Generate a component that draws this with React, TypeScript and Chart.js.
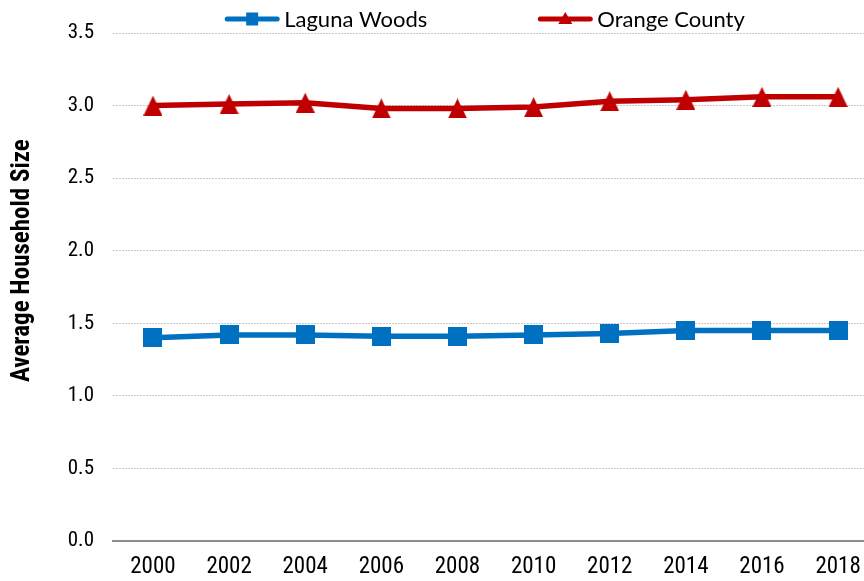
import React, { useEffect, useRef } from "react";
import { Chart, registerables } from "chart.js";

Chart.register(...registerables);

const years = [2000, 2002, 2004, 2006, 2008, 2010, 2012, 2014, 2016, 2018];
const lagunaWoods = [1.40, 1.42, 1.42, 1.41, 1.41, 1.42, 1.43, 1.45, 1.45, 1.45];
const orangeCounty = [3.00, 3.01, 3.02, 2.98, 2.98, 2.99, 3.03, 3.04, 3.06, 3.06];
const yTicks = [0, 0.5, 1.0, 1.5, 2.0, 2.5, 3.0, 3.5];
const seriesNames = ["Laguna Woods", "Orange County"];
const yAxisTitle = "Average Household Size";

const BLUE = "#0070C0";
const RED = "#C00000";
const TICK_FONT = "'Roboto Condensed', 'Liberation Sans', sans-serif";

function makeMarker(kind: string, color: string): HTMLCanvasElement {
  const c = document.createElement("canvas");
  if (kind === "rect") {
    c.width = 19;
    c.height = 19;
    const g = c.getContext("2d")!;
    g.fillStyle = color;
    g.fillRect(0, 0, 19, 19);
  } else {
    c.width = 19;
    c.height = 20;
    const g = c.getContext("2d")!;
    g.fillStyle = color;
    g.beginPath();
    g.moveTo(9.5, 0);
    g.lineTo(19, 20);
    g.lineTo(0, 20);
    g.closePath();
    g.fill();
  }
  return c;
}

const titlePlugin = {
  id: "yTitle",
  afterDraw(chart: any) {
    const ctx = chart.ctx;
    const area = chart.chartArea;
    ctx.save();
    ctx.translate(23, area.top + (area.bottom - area.top) * 0.448);
    ctx.rotate(-Math.PI / 2);
    ctx.font = "bold 25px 'Roboto Condensed', 'Liberation Sans', sans-serif";
    ctx.fillStyle = "#000";
    ctx.textAlign = "center";
    ctx.textBaseline = "middle";
    ctx.fillText(yAxisTitle, 0, 0);
    ctx.restore();
  },
};

const legendPlugin = {
  id: "excelLegend",
  afterDraw(chart: any) {
    const ctx = chart.ctx;
    const area = chart.chartArea;
    ctx.save();
    ctx.font = "22px Lato, 'Open Sans', sans-serif";
    const symW = 56;
    const symGap = 4;
    const itemGap = 110;
    const items = chart.data.datasets.map((ds: any) => ({
      ds,
      tw: ctx.measureText(ds.label).width,
    }));
    const total =
      items.reduce((s: number, it: any) => s + symW + symGap + it.tw, 0) +
      itemGap * (items.length - 1);
    let x = (area.left + area.right) / 2 - 4 - total / 2;
    const y = 19;
    items.forEach((it: any) => {
      const ds = it.ds;
      const col = ds.borderColor;
      ctx.strokeStyle = col;
      ctx.lineWidth = 5;
      ctx.lineCap = "round";
      ctx.beginPath();
      ctx.moveTo(x + 3, y);
      ctx.lineTo(x + symW - 3, y);
      ctx.stroke();
      ctx.fillStyle = col;
      const cx = x + symW / 2;
      if (ds.label === seriesNames[0]) {
        ctx.fillRect(cx - 6, y - 6.5, 12, 13);
      } else {
        ctx.beginPath();
        ctx.moveTo(cx, y - 7);
        ctx.lineTo(cx + 7, y + 5);
        ctx.lineTo(cx - 7, y + 5);
        ctx.closePath();
        ctx.fill();
      }
      ctx.fillStyle = "#000";
      ctx.textBaseline = "alphabetic";
      ctx.textAlign = "left";
      ctx.fillText(ds.label, x + symW + symGap, 27);
      x += symW + symGap + it.tw + itemGap;
    });
    ctx.restore();
  },
};

export default function App() {
  const ref = useRef<HTMLCanvasElement | null>(null);

  useEffect(() => {
    document.body.style.margin = "0";
    const canvas = ref.current;
    if (!canvas) return;
    const sq = makeMarker("rect", BLUE);
    const tri = makeMarker("triangle", RED);
    const chart = new Chart(canvas, {
      type: "line",
      data: {
        datasets: [
          {
            label: seriesNames[0],
            data: years.map((yr, i) => ({ x: yr, y: lagunaWoods[i] })),
            borderColor: BLUE,
            backgroundColor: BLUE,
            borderWidth: 5.5,
            pointStyle: sq,
            pointRadius: 9,
            pointHoverRadius: 9,
            tension: 0,
            clip: false,
          },
          {
            label: seriesNames[1],
            data: years.map((yr, i) => ({ x: yr, y: orangeCounty[i] })),
            borderColor: RED,
            backgroundColor: RED,
            borderWidth: 5.5,
            pointStyle: tri,
            pointRadius: 9,
            pointHoverRadius: 9,
            tension: 0,
            clip: false,
          },
        ],
      },
      options: {
        responsive: false,
        animation: false,
        layout: { autoPadding: false, padding: { top: 33, right: 0, bottom: 0, left: 0 } },
        plugins: {
          legend: { display: false },
          tooltip: { enabled: false },
        },
        scales: {
          x: {
            type: "linear",
            min: 1998.95,
            max: 2018.68,
            afterBuildTicks: (s: any) => {
              s.ticks = years.map((v) => ({ value: v }));
            },
            afterFit: (s: any) => {
              s.height = 40;
              s.paddingLeft = 0;
              s.paddingRight = 0;
            },
            grid: { display: false, drawTicks: false },
            border: { display: true, color: "#8c8c8c", width: 2 },
            ticks: {
              color: "#000",
              font: { family: TICK_FONT, size: 23 },
              padding: 12,
              maxRotation: 0,
              autoSkip: false,
              callback: (v: any) => String(v),
            },
          },
          y: {
            min: 0,
            max: 3.5,
            afterBuildTicks: (s: any) => {
              s.ticks = yTicks.map((v) => ({ value: v }));
            },
            afterFit: (s: any) => {
              s.width = 113;
              s.paddingTop = 0;
              s.paddingBottom = 0;
            },
            grid: {
              color: "#c8c8c8",
              lineWidth: 1,
              drawTicks: false,
            },
            border: { display: false, dash: [2, 1] },
            ticks: {
              color: "#000",
              font: { family: TICK_FONT, size: 21 },
              padding: 19,
              callback: (v: any) => Number(v).toFixed(1),
            },
          },
        },
      },
      plugins: [legendPlugin, titlePlugin],
    });
    return () => chart.destroy();
  }, []);

  return (
    <div style={{ width: 864, height: 581 }}>
      <canvas ref={ref} width={864} height={581} style={{ display: "block" }} />
    </div>
  );
}
